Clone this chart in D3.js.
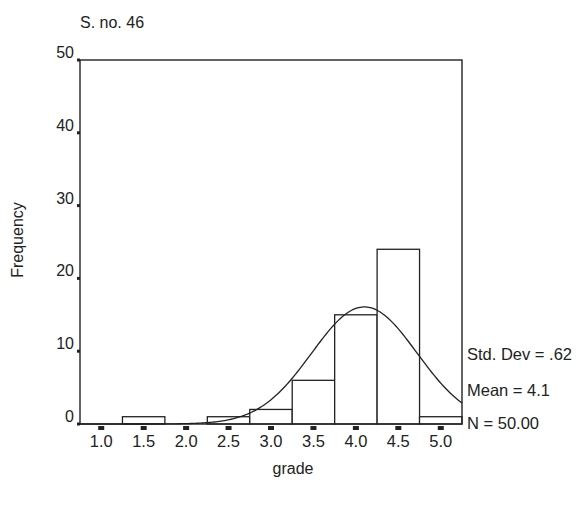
<!DOCTYPE html>
<html><head><meta charset="utf-8">
<script src="https://cdn.jsdelivr.net/npm/d3@7"></script>
<style>html,body{margin:0;padding:0;background:#fff}svg{display:block}text{font-family:"Liberation Sans",Arial,sans-serif;fill:#222}</style>
</head><body><div id="chart"></div>
<script>
const binCenters = [1.0, 1.5, 2.0, 2.5, 3.0, 3.5, 4.0, 4.5, 5.0];
const counts = [0, 1, 0, 1, 2, 6, 15, 24, 1];
const xTickLabels = ["1.0","1.5","2.0","2.5","3.0","3.5","4.0","4.5","5.0"];
const yTicks = [0, 10, 20, 30, 40, 50];
const statLabels = ["Std. Dev = .62", "Mean = 4.1", "N = 50.00"];
const stdDev = 0.62, mean = 4.1, nTotal = 50, binWidth = 0.5;
const title = "S. no. 46", xTitle = "grade", yTitle = "Frequency";

const W = 586, H = 512;
const svg = d3.select("#chart").append("svg").attr("width", W).attr("height", H);
const x = d3.scaleLinear().domain([0.75, 5.25]).range([80, 462]);
const y = d3.scaleLinear().domain([0, 50]).range([424, 60]);

// bars
svg.append("g").selectAll("rect").data(binCenters.map((c,i)=>({c, v:counts[i]})).filter(d=>d.v>0))
  .join("rect")
  .attr("x", d => x(d.c - binWidth/2))
  .attr("width", d => x(d.c + binWidth/2) - x(d.c - binWidth/2))
  .attr("y", d => y(d.v))
  .attr("height", d => y(0) - y(d.v))
  .attr("fill", "#fff").attr("stroke", "#222").attr("stroke-width", 1.3);

// normal curve
const peak = nTotal * binWidth / (stdDev * Math.sqrt(2*Math.PI));
const xs = d3.range(0.75, 5.2501, 0.02);
const line = d3.line().x(d => x(d)).y(d => y(peak * Math.exp(-0.5*Math.pow((d-mean)/stdDev,2))));
svg.append("path").datum(xs).attr("d", line).attr("fill","none").attr("stroke","#222").attr("stroke-width",1.3);

// frame
svg.append("rect").attr("x", 80).attr("y", 60).attr("width", 382).attr("height", 364)
  .attr("fill","none").attr("stroke","#222").attr("stroke-width",1.4);

// y ticks
const yg = svg.append("g");
yg.selectAll("rect").data(yTicks).join("rect")
  .attr("x", 77).attr("y", d => y(d) - 1.5).attr("width", 3).attr("height", 3).attr("fill","#222");
yg.selectAll("text").data(yTicks).join("text")
  .attr("x", 74).attr("y", d => y(d) - 2).attr("text-anchor","end")
  .attr("font-size", 16).text(d => d);

// x ticks
const xg = svg.append("g");
xg.selectAll("rect").data(binCenters).join("rect")
  .attr("x", d => x(d) - 3).attr("y", y(0) + 2).attr("width", 6).attr("height", 4).attr("fill","#222");
xg.selectAll("text").data(binCenters).join("text")
  .attr("x", d => x(d)).attr("y", 447).attr("text-anchor","middle")
  .attr("font-size", 16.5).text((d,i) => xTickLabels[i]);

// titles
svg.append("text").attr("x", 80).attr("y", 28).attr("font-size", 16).text(title);
svg.append("text").attr("x", 293).attr("y", 474).attr("text-anchor","middle").attr("font-size", 16).text(xTitle);
svg.append("text").attr("transform", "translate(23,240) rotate(-90)").attr("text-anchor","middle")
  .attr("font-size", 16).text(yTitle);

// stats
const statY = [360, 396, 429];
svg.append("g").selectAll("text").data(statLabels).join("text")
  .attr("x", 467).attr("y", (d,i) => statY[i]).attr("font-size", 16.5).text(d => d);
</script></body></html>
